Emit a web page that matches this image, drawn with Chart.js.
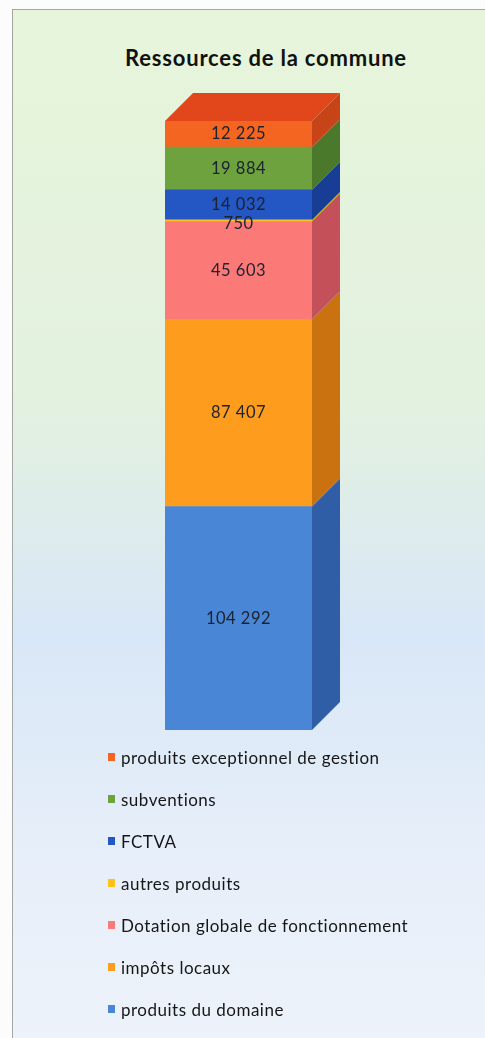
<!DOCTYPE html>
<html><head><meta charset="utf-8">
<script src="https://cdn.jsdelivr.net/npm/chart.js@4.4.1/dist/chart.umd.min.js"></script>
<style>
html,body{margin:0;padding:0;width:485px;height:1038px;overflow:hidden;background:#fbfcfb;}
#frame{position:absolute;left:12px;top:9px;width:490px;height:1040px;border-left:1.5px solid #a3a6a3;border-top:1.5px solid #a3a6a3;
background:linear-gradient(to bottom,#e6f5da 0%,#e3f1e0 38%,#d8e7f7 60%,#e6eef9 80%,#eef3fa 100%);}
#title{position:absolute;left:0;width:532px;top:44px;text-align:center;font-family:Lato,sans-serif;font-weight:bold;font-size:22px;letter-spacing:0.8px;color:#111;}
#c{position:absolute;left:0;top:0;}
#legend{position:absolute;left:108px;top:747px;font-family:Lato,sans-serif;font-size:17px;letter-spacing:0.5px;color:#161616;}
.li{height:42px;position:relative;}
.sw{position:absolute;left:0;top:6px;width:7px;height:8px;}
.tx{position:absolute;left:13px;top:0;white-space:nowrap;}
</style></head>
<body>
<div id="frame"></div>
<div id="title">Ressources de la commune</div>
<canvas id="c" width="485" height="1038"></canvas>
<div id="legend"></div>
<script>
const categories = ["Ressources"];
const seriesNames = ["produits du domaine","impôts locaux","Dotation globale de fonctionnement","autres produits","FCTVA","subventions","produits exceptionnel de gestion"];
const produitsDomaine = [104292];
const impotsLocaux = [87407];
const dotationGlobale = [45603];
const autresProduits = [750];
const fctva = [14032];
const subventions = [19884];
const produitsExceptionnels = [12225];
const seriesValues = [produitsDomaine, impotsLocaux, dotationGlobale, autresProduits, fctva, subventions, produitsExceptionnels];

const frontColors = ["#4a86d6","#fd9c1d","#fb7a78","#ffc21a","#2457c4","#6ea23e","#f36520"];
const sideColors  = ["#2f5ea6","#c9720f","#c4505a","#caa010","#173d95","#4b792b","#c64418"];
const topColor = "#e2471b";

const total = seriesValues.reduce((s,a)=>s+a[0],0);
const fmt = v => String(v).replace(/\B(?=(\d{3})+(?!\d))/g," ");

const DX = 28, DY = -28;
const threeD = {
  id:'threeD',
  afterDatasetsDraw(chart){
    const ctx = chart.ctx;
    const n = chart.data.datasets.length;
    chart.data.datasets.forEach((ds,i)=>{
      const meta = chart.getDatasetMeta(i);
      meta.data.forEach(el=>{
        const p = el.getProps(['x','y','base','width'],true);
        const left = p.x - p.width/2, right = p.x + p.width/2;
        ctx.save();
        ctx.fillStyle = sideColors[i];
        ctx.beginPath();
        ctx.moveTo(right, p.y);
        ctx.lineTo(right+DX, p.y+DY);
        ctx.lineTo(right+DX, p.base+DY);
        ctx.lineTo(right, p.base);
        ctx.closePath();
        ctx.fill();
        if(i===n-1){
          ctx.fillStyle = topColor;
          ctx.beginPath();
          ctx.moveTo(left, p.y);
          ctx.lineTo(left+DX, p.y+DY);
          ctx.lineTo(right+DX, p.y+DY);
          ctx.lineTo(right, p.y);
          ctx.closePath();
          ctx.fill();
        }
        ctx.restore();
      });
    });
    chart.data.datasets.forEach((ds,i)=>{
      const meta = chart.getDatasetMeta(i);
      meta.data.forEach((el,j)=>{
        const p = el.getProps(['x','y','base'],true);
        let cy = (p.y + p.base)/2;
        if (Math.abs(p.base - p.y) < 6) cy += 3;
        ctx.save();
        ctx.font = "16.5px Lato, sans-serif";
        ctx.letterSpacing = "0.5px";
        ctx.fillStyle = "#1b2230";
        ctx.textAlign = "center";
        ctx.textBaseline = "middle";
        ctx.fillText(fmt(ds.data[j]), p.x, cy);
        ctx.restore();
      });
    });
  }
};

new Chart(document.getElementById('c'), {
  type:'bar',
  data:{
    labels: categories,
    datasets: seriesNames.map((name,i)=>({
      label:name, data:seriesValues[i], backgroundColor:frontColors[i],
      borderWidth:0, barPercentage:1, categoryPercentage:1
    }))
  },
  options:{
    responsive:false, animation:false,
    layout:{padding:{left:165,right:173,top:121,bottom:308}},
    scales:{
      x:{stacked:true, display:false},
      y:{stacked:true, display:false, min:0, max:total}
    },
    plugins:{legend:{display:false}, tooltip:{enabled:false}, title:{display:false}}
  },
  plugins:[threeD]
});

const lg = document.getElementById('legend');
for(let i=seriesNames.length-1;i>=0;i--){
  const d = document.createElement('div'); d.className='li';
  d.innerHTML = '<span class="sw" style="background:'+frontColors[i]+'"></span><span class="tx">'+seriesNames[i]+'</span>';
  lg.appendChild(d);
}
</script>
</body></html>
